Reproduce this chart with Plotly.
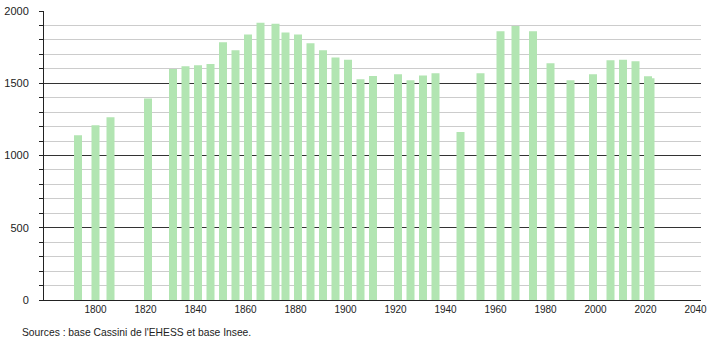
import plotly.graph_objects as go

years = [1793, 1800, 1806, 1821, 1831, 1836, 1841, 1846, 1851, 1856, 1861, 1866,
         1872, 1876, 1881, 1886, 1891, 1896, 1901, 1906, 1911, 1921, 1926, 1931,
         1936, 1946, 1954, 1962, 1968, 1975, 1982, 1990, 1999, 2006, 2011, 2016,
         2021, 2022]
population = [1140, 1209, 1265, 1394, 1599, 1617, 1624, 1633, 1783, 1728, 1838, 1919,
              1912, 1852, 1838, 1776, 1728, 1679, 1663, 1527, 1550, 1562, 1520, 1553,
              1569, 1163, 1569, 1859, 1896, 1859, 1638, 1520, 1562, 1659, 1663, 1652,
              1548, 1534]
x_ticks = [1800, 1820, 1840, 1860, 1880, 1900, 1920, 1940, 1960, 1980, 2000, 2020, 2040]
y_ticks = [0, 500, 1000, 1500, 2000]
source_text = "Sources : base Cassini de l'EHESS et base Insee."

fig = go.Figure()
fig.add_trace(go.Bar(
    x=years, y=population, width=3.2,
    marker=dict(color="rgb(178,229,178)", line=dict(width=0)),
    hoverinfo="x+y",
))

fig.update_layout(
    template="none",
    width=710, height=340,
    margin=dict(l=44, r=9, t=11, b=40, autoexpand=False),
    paper_bgcolor="white", plot_bgcolor="white",
    showlegend=False,
    font=dict(family="Liberation Sans, Arial, sans-serif", color="#222"),
    xaxis=dict(
        range=[1779.4, 2042.2], automargin=False,
        tickmode="array", tickvals=x_ticks, ticktext=[str(v) for v in x_ticks],
        showgrid=False, zeroline=False,
        showline=True, linecolor="#222", linewidth=1,
        ticks="", tickfont=dict(size=10),
    ),
    yaxis=dict(
        range=[0, 2000], automargin=False,
        tickmode="array", tickvals=y_ticks, ticktext=[str(v) for v in y_ticks],
        showgrid=True, gridcolor="#333", gridwidth=1,
        zeroline=False,
        showline=True, linecolor="#222", linewidth=1,
        ticks="outside", ticklen=4, tickcolor="#222",
        tickfont=dict(size=11),
        ticklabelstandoff=8,
        minor=dict(dtick=100, showgrid=True, gridcolor="#cccccc", gridwidth=1,
                   ticks="outside", ticklen=4, tickcolor="#222"),
    ),
    annotations=[dict(
        text=source_text, xref="paper", yref="paper",
        x=-0.036, y=-0.085, xanchor="left", yanchor="top",
        showarrow=False, font=dict(size=10.3, color="#222"),
    )],
)

fig.write_html("out.html")
